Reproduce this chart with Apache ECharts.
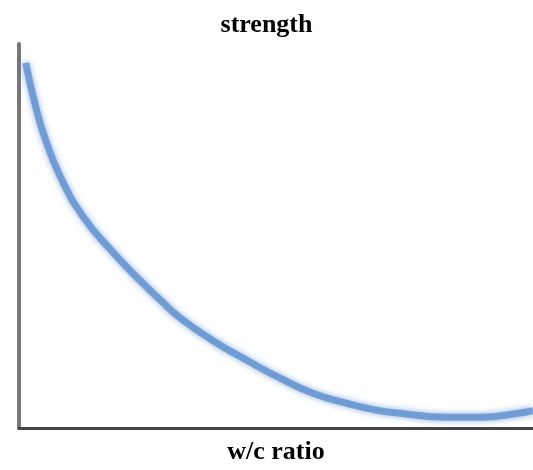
<!DOCTYPE html>
<html>
<head>
<meta charset="utf-8">
<script src="https://cdn.jsdelivr.net/npm/echarts@6/dist/echarts.min.js"></script>
<style>html,body{margin:0;padding:0;background:#fff}#c{width:533px;height:470px}</style>
</head>
<body>
<div id="c"></div>
<script>
const titleText = 'strength';
const xName = 'w/c ratio';
const wcRatio =  [1.3, 2.9, 4.9, 8.2, 12.6, 17.9, 23.7, 27.6, 31.5, 37.9, 44.5, 50.9, 57.3, 63.9, 69.7, 73.6, 83.3, 89.7, 97.5, 100];
const strength = [95.1, 85.6, 76.1, 65.0, 54.8, 46.3, 38.2, 33.2, 28.5, 22.6, 17.5, 12.9, 9.0, 6.4, 4.6, 3.9, 2.8, 2.8, 3.9, 4.5];

const chart = echarts.init(document.getElementById('c'), null, {renderer: 'canvas'});
chart.setOption({
  animation: false,
  backgroundColor: '#fff',
  title: {
    text: titleText, left: 'center', top: 7,
    textStyle: {fontFamily: 'Liberation Serif', fontWeight: 'bold', fontSize: 26, color: '#000'}
  },
  grid: {left: 19, right: 0, top: 44, bottom: 37, containLabel: false},
  xAxis: {
    type: 'value', min: 0, max: 100,
    name: xName, nameLocation: 'middle', nameGap: 11,
    nameTextStyle: {fontFamily: 'Liberation Serif', fontWeight: 'bold', fontSize: 26, color: '#000', verticalAlign: 'top'},
    axisLine: {show: true, onZero: false, lineStyle: {color: '#444', width: 3}},
    axisTick: {show: false}, axisLabel: {show: false}, splitLine: {show: false}
  },
  yAxis: {
    type: 'value', min: 0, max: 100,
    axisLine: {show: true, onZero: false, lineStyle: {color: '#777', width: 4}},
    axisTick: {show: false}, axisLabel: {show: false}, splitLine: {show: false}
  },
  series: [{
    type: 'line', smooth: true, showSymbol: false,
    data: wcRatio.map((x, i) => [x, strength[i]]),
    lineStyle: {color: 'rgba(90,140,205,0.75)', width: 7, shadowBlur: 6, shadowColor: 'rgba(90,140,205,0.9)'}
  }]
});
</script>
</body>
</html>
